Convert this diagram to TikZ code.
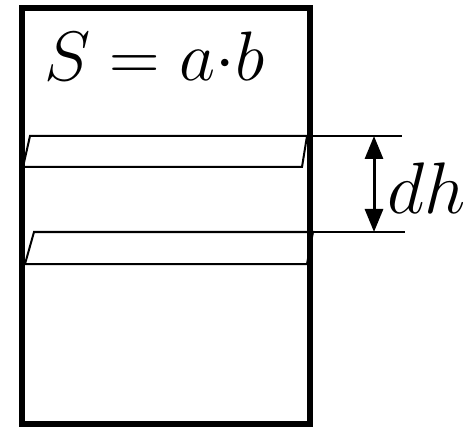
\RequirePackage{fix-cm}
\documentclass[tikz,border=0pt]{standalone}
\usetikzlibrary{arrows.meta, positioning}
\tikzset{
  wall/.style={draw=black, line width=6pt},
  slab/.style={draw=black, line width=2pt, fill=white, line join=miter},
  extline/.style={draw=black, line width=2pt},
  dimarrow/.style={{Triangle[length=23pt,width=18pt]}-{Triangle[length=23pt,width=18pt]}, line width=3pt},
  formula/.style={inner sep=0pt, anchor=base west, font=\fontsize{70}{72}\selectfont},
  dimlabel/.style={inner sep=0pt, anchor=base west, font=\fontsize{73}{75}\selectfont}
}

\begin{document}
\begin{tikzpicture}[x=1pt, y=-1pt]
\useasboundingbox (0,0) rectangle (470,427);

% two thin slices
\draw[slab] (30,136) coordinate (s1tl) -- (307,136) coordinate (s1tr)
  -- (302,167) coordinate (s1br) -- (23,167) coordinate (s1bl) -- cycle;
\draw[slab] (34,232) coordinate (s2tl) -- (313,232) coordinate (s2tr)
  -- (307,264) coordinate (s2br) -- (25,264) coordinate (s2bl) -- cycle;

% container
\draw[wall] (22,8) rectangle (310,424);

% dimension
\coordinate (e1) at (402,136);
\coordinate (e2) at (405,232);
\coordinate (d1) at (374,136);
\coordinate (d2) at (374,232);
\draw[extline] (s1tr) -- (e1);
\draw[extline] (s2tr) -- (e2);
\draw[dimarrow] (d1) -- (d2);

\node[formula] (area) at (44,81) {$S = a{\cdot}b$};
\node[dimlabel] (dh) at (387,214) {$dh$};

\end{tikzpicture}
\end{document}
